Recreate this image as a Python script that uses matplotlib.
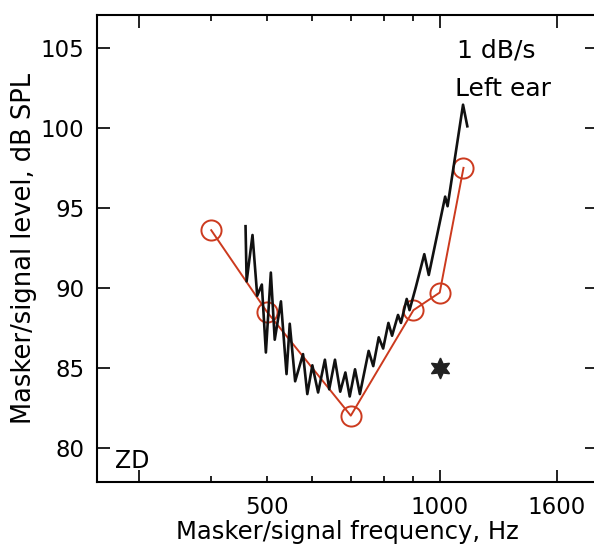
import matplotlib
matplotlib.use("Agg")
import matplotlib.pyplot as plt

# tracking trace (black zigzag), frequency in Hz and level in dB SPL
trace_freq = [459, 461, 472, 481, 490, 498, 508, 516, 529, 541, 548, 560, 578, 588,
              600, 614, 631, 642, 657, 671, 685, 697, 712, 726, 752, 766, 783, 797,
              814, 826, 846, 856, 876, 886, 908, 940, 957, 1022, 1032, 1098, 1117]
trace_level = [93.85, 90.4, 93.3, 89.5, 90.2, 85.95, 90.95, 86.75, 89.15, 84.6, 87.75,
               84.15, 85.85, 83.35, 85.15, 83.45, 85.5, 83.65, 85.5, 83.5, 84.7, 83.2,
               84.9, 83.35, 86.05, 85.1, 86.9, 86.2, 87.8, 87.0, 88.3, 87.8, 89.3,
               88.6, 90.0, 92.1, 90.8, 95.7, 95.1, 101.45, 100.1]

# fixed-frequency thresholds (red circles)
circ_freq = [400, 500, 700, 900, 1000, 1100]
circ_level = [93.6, 88.5, 82.0, 88.6, 89.7, 97.5]

# single star point
star_freq = [1000]
star_level = [85.0]

red = "#cc3a1e"

fig = plt.figure(figsize=(5.94, 5.52), dpi=100)
ax = fig.add_axes([0.1633, 0.1268, 0.842, 0.846])

ax.plot(trace_freq, trace_level, color="#111111", lw=1.9, zorder=3)
ax.plot(circ_freq, circ_level, color=red, lw=1.4, marker="o", ms=14.5,
        mfc="none", mec=red, mew=1.4, zorder=2)
ax.plot(star_freq, star_level, ls="none", marker=(6, 1, 0), ms=15,
        color="#222222", zorder=4)

ax.set_xscale("log")
ax.set_xlim(253, 1880)
ax.set_ylim(77.85, 107.06)

ax.set_xticks([300, 1000, 1600], ["", "1000", "1600"])
ax.set_xticks([400, 500, 600, 700, 800, 900],
              ["", "500", "", "", "", ""], minor=True)
ax.set_yticks([80, 85, 90, 95, 100, 105])

ax.tick_params(which="both", direction="in", top=True, right=True,
               labelsize=16.5, width=1.3, color="#111111")
ax.tick_params(axis="x", which="both", pad=10)
ax.tick_params(axis="y", which="both", pad=9)
ax.tick_params(which="major", length=9)
ax.tick_params(which="minor", length=4.5)
for s in ax.spines.values():
    s.set_linewidth(1.5)

ax.set_xlabel("Masker/signal frequency, Hz", fontsize=17.5, labelpad=1)
ax.set_ylabel("Masker/signal level, dB SPL", fontsize=18.5, labelpad=3)

ax.text(0.72, 0.91, "1 dB/s", transform=ax.transAxes, fontsize=18)
ax.text(0.715, 0.827, "Left ear", transform=ax.transAxes, fontsize=18)
ax.text(0.036, 0.03, "ZD", transform=ax.transAxes, fontsize=17)

fig.savefig("out.png", dpi=100)
